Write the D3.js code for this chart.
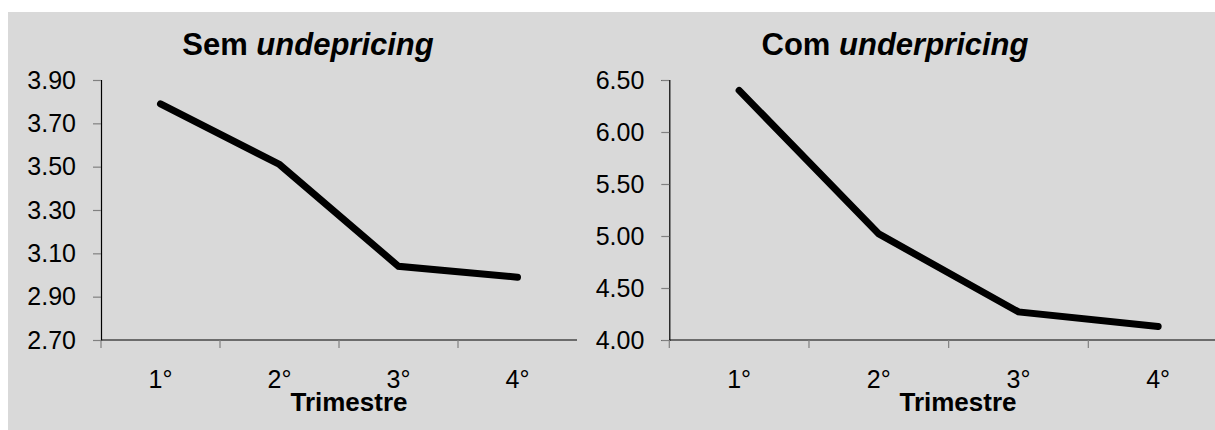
<!DOCTYPE html>
<html>
<head>
<meta charset="utf-8">
<script src="https://cdn.jsdelivr.net/npm/d3@7"></script>
<style>
  html, body { margin: 0; padding: 0; background: #ffffff; }
  svg { display: block; font-family: "Liberation Sans", Arial, sans-serif; }
</style>
</head>
<body>
<svg id="chart" width="1215" height="430"></svg>
<script>
// Quarters on the x axis
const quarters = ["1°", "2°", "3°", "4°"];

// Series: without underpricing
const semValues = [3.79, 3.51, 3.04, 2.99];
const semTicks = [2.70, 2.90, 3.10, 3.30, 3.50, 3.70, 3.90];

// Series: with underpricing
const comValues = [6.40, 5.02, 4.27, 4.13];
const comTicks = [4.00, 4.50, 5.00, 5.50, 6.00, 6.50];

const svg = d3.select("#chart");

// grey panel behind both charts
svg.append("rect")
  .attr("x", 8).attr("y", 12)
  .attr("width", 1207).attr("height", 418)
  .attr("fill", "#d9d9d9");

const panels = [
  { values: semValues, ticks: semTicks, left: 101, right: 577,
    titlePlain: "Sem ", titleItalic: "undepricing", titleX: 308, xTitleX: 349 },
  { values: comValues, ticks: comTicks, left: 669.3, right: 1228,
    titlePlain: "Com ", titleItalic: "underpricing", titleX: 895, xTitleX: 958 }
];

const plotTop = 80, plotBottom = 340;

panels.forEach(p => {
  const g = svg.append("g");

  const x = d3.scaleBand().domain(quarters).range([p.left, p.right]).padding(0);
  const y = d3.scaleLinear()
    .domain([d3.min(p.ticks), d3.max(p.ticks)])
    .range([plotBottom, plotTop]);

  // y axis
  const yAxis = g.append("g")
    .attr("transform", `translate(${p.left},0)`)
    .call(d3.axisLeft(y).tickValues(p.ticks).tickFormat(d3.format(".2f"))
      .tickSize(8).tickPadding(17));
  yAxis.select(".domain").attr("stroke", "#000").attr("stroke-width", 1.2);
  yAxis.selectAll(".tick line").attr("stroke", "#808080").attr("stroke-width", 1.2);
  yAxis.selectAll(".tick text")
    .attr("fill", "#000").attr("font-size", 25)
    .attr("font-family", "'Liberation Sans', Arial, sans-serif");

  // x axis baseline
  g.append("line")
    .attr("x1", p.left).attr("x2", p.right)
    .attr("y1", plotBottom).attr("y2", plotBottom)
    .attr("stroke", "#000").attr("stroke-width", 1.2);

  // tick marks sit on the category boundaries
  const boundaries = quarters.map(q => x(q));
  g.selectAll("line.xtick").data(boundaries).join("line")
    .attr("class", "xtick")
    .attr("x1", d => d).attr("x2", d => d)
    .attr("y1", plotBottom).attr("y2", plotBottom + 8)
    .attr("stroke", "#808080").attr("stroke-width", 1.2);

  // category labels centred in each band
  g.selectAll("text.xlab").data(quarters).join("text")
    .attr("class", "xlab")
    .attr("x", d => x(d) + x.bandwidth() / 2)
    .attr("y", 388)
    .attr("text-anchor", "middle")
    .attr("font-size", 25)
    .attr("fill", "#000")
    .text(d => d);

  // axis title
  g.append("text")
    .attr("x", p.xTitleX).attr("y", 411)
    .attr("text-anchor", "middle")
    .attr("font-size", 26).attr("font-weight", "bold")
    .attr("fill", "#000")
    .text("Trimestre");

  // chart title
  const t = g.append("text")
    .attr("x", p.titleX).attr("y", 55)
    .attr("text-anchor", "middle")
    .attr("font-size", 31).attr("font-weight", "bold")
    .attr("fill", "#000");
  t.append("tspan").text(p.titlePlain);
  t.append("tspan").attr("font-style", "italic").text(p.titleItalic);

  // series line
  const line = d3.line()
    .x((d, i) => x(quarters[i]) + x.bandwidth() / 2)
    .y(d => y(d));
  g.append("path")
    .datum(p.values)
    .attr("d", line)
    .attr("fill", "none")
    .attr("stroke", "#000")
    .attr("stroke-width", 7)
    .attr("stroke-linecap", "round")
    .attr("stroke-linejoin", "miter");
});
</script>
</body>
</html>
